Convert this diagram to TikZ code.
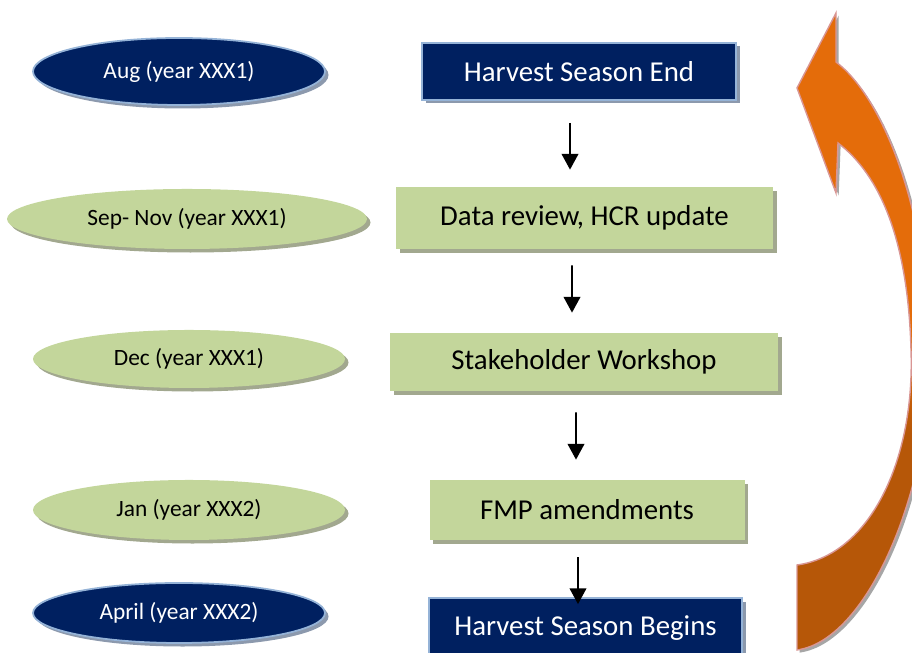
\documentclass[tikz,border=0pt]{standalone}
\usepackage{fontspec}
\setmainfont{Carlito}
\usepackage{tikz}
\usetikzlibrary{shapes.geometric,shadows,calc,arrows.meta}
\definecolor{navy}{HTML}{002060}
\definecolor{navyedge}{HTML}{95B3D7}
\definecolor{navyshade}{HTML}{8C99AD}
\definecolor{sage}{HTML}{C3D69B}
\definecolor{sageshade}{HTML}{A2A88F}
\definecolor{turnorange}{HTML}{E46C0A}
\definecolor{turnbrown}{HTML}{B65708}
\definecolor{turnedge}{HTML}{D99694}
\pgfdeclareverticalshading{turnshade}{100bp}{color(0bp)=(turnbrown); color(42bp)=(turnbrown); color(50bp)=(turnorange); color(100bp)=(turnorange)}
\tikzset{>={Triangle[length=9pt,width=9.5pt]},
    month/.style={ellipse, inner sep=0pt, font=\fontsize{13.3}{16}\selectfont},
    stage/.style={rectangle, inner sep=0pt, font=\fontsize{16.4}{20}\selectfont},
    darkfill/.style={fill=navy, draw=navyedge, line width=1pt, text=white,
        drop shadow={shadow xshift=2pt, shadow yshift=-2pt, fill=navyshade, opacity=1}},
    greenfill/.style={fill=sage, draw=none, text=black,
        drop shadow={shadow xshift=2pt, shadow yshift=-2pt, fill=sageshade, opacity=1}},
    flow/.style={->, line width=1.1pt}}

\begin{document}
\begin{tikzpicture}
    \useasboundingbox (0,0) rectangle (18.24,13.06);
    \clip (0,0) rectangle (18.24,13.06);
    % time line on the left
    \node[month, darkfill, minimum width=5.84cm, minimum height=1.34cm] at (3.58, 11.63) (aug) {Aug (year XXX1)};
    \node[month, greenfill, minimum width=7.2cm, minimum height=1.2cm] at (3.74, 8.68) (sepnov) {Sep- Nov (year XXX1)};
    \node[month, greenfill, minimum width=6.24cm, minimum height=1.16cm] at (3.78, 5.88) (dec) {Dec (year XXX1)};
    \node[month, greenfill, minimum width=6.24cm, minimum height=1.2cm] at (3.78, 2.86) (jan) {Jan (year XXX2)};
    \node[month, darkfill, minimum width=5.84cm, minimum height=1.2cm] at (3.58, 0.80) (april) {April (year XXX2)};
    % steps
    \node[stage, darkfill, minimum width=6.28cm, minimum height=1.14cm] at (11.58, 11.63) (hse) {Harvest Season End};
    \node[stage, greenfill, minimum width=7.54cm, minimum height=1.24cm] at (11.69, 8.70) (data) {Data review, HCR update};
    \node[stage, greenfill, minimum width=7.76cm, minimum height=1.16cm] at (11.68, 5.82) (stake) {Stakeholder Workshop};
    \node[stage, greenfill, minimum width=6.3cm, minimum height=1.2cm] at (11.74, 2.86) (fmp) {FMP amendments};
    \node[stage, darkfill, minimum width=6.26cm, minimum height=1.2cm] at (11.71, 0.50) (hsb) {Harvest Season Begins};
    \draw[flow] ($(hse.south)+(-0.18,-0.44)$) -- ($(data.north)+(-0.29,0.34)$);
    \draw[flow] ($(data.south)+(-0.25,-0.32)$) -- ($(stake.north)+(-0.24,0.40)$);
    \draw[flow] ($(stake.south)+(-0.16,-0.42)$) -- ($(fmp.north)+(-0.22,0.40)$);
    \draw[flow] ($(fmp.south)+(-0.18,-0.34)$) -- ($(hsb.north)+(-0.15,-0.14)$);
    % big return arrow
    \shadedraw[shading=turnshade, draw=turnedge, line width=0.8pt,
        drop shadow={shadow xshift=1.5pt, shadow yshift=-1.5pt, fill=black!35, opacity=1}]
        (15.94, 11.30) -- (16.72, 12.80) -- (16.72, 11.82)
        .. controls (17.60, 11.16) and (18.50, 9.06) .. (18.60, 6.26)
        .. controls (18.70, 3.46) and (17.40, 0.26) .. (15.94, 0.06)
        -- (15.94, 1.76)
        .. controls (17.40, 1.96) and (18.30, 3.86) .. (18.22, 6.06)
        .. controls (18.16, 8.26) and (17.60, 9.56) .. (16.76, 10.20)
        -- (16.72, 9.20) -- cycle;
\end{tikzpicture}
\end{document}
